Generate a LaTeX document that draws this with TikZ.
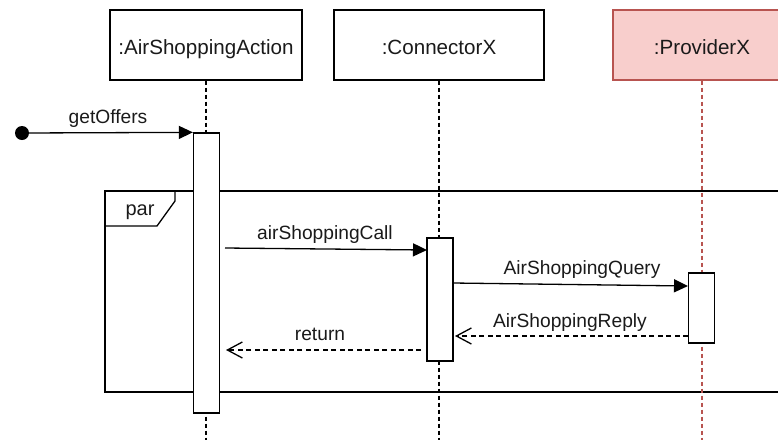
\documentclass[tikz,border=0pt]{standalone}
\usepackage{fontspec}
\setmainfont{Liberation Sans}
\usetikzlibrary{arrows.meta}
\definecolor{provfill}{HTML}{F8CECC}
\definecolor{provline}{HTML}{B85450}
\definecolor{ink}{HTML}{1A1A1A}
\begin{document}
\begin{tikzpicture}[x=1pt,y=-1pt,line width=1.3pt,
  head/.style={draw, minimum height=70pt, inner sep=0pt,
    text height=18pt, text depth=0pt, text=ink,
    font=\fontsize{20.6}{24}\selectfont},
  life/.style={dash pattern=on 4pt off 3pt},
  act/.style={draw, fill=white, minimum width=26pt, inner sep=0pt},
  sync/.style={-{Triangle[length=14pt,width=13pt]}},
  reply/.style={dash pattern=on 5pt off 3.5pt,
    -{Straight Barb[length=15pt,width=16pt,line width=1.3pt]}},
  lbl/.style={inner sep=0pt, anchor=base, text=ink,
    font=\fontsize{19.2}{23}\selectfont}]
\useasboundingbox (0,0) rectangle (778,440);
\clip (0,0) rectangle (778,440);

% participant heads
\node[head, minimum width=192pt] (asa) at (206,45) {:AirShoppingAction};
\node[head, minimum width=210pt] (con) at (439,45) {:ConnectorX};
\node[head, minimum width=178pt, fill=provfill, draw=provline] (prov) at (702,45) {:ProviderX};

% combined fragment "par"
\draw (105,191) rectangle (800,392);
\draw (105,226) -- (157,226) -- (175,201) -- (175,191);
\node[lbl, font=\fontsize{20}{24}\selectfont] (par) at (140,215) {par};

% lifelines
\coordinate (asa-end) at (206,440);
\coordinate (con-end) at (439,440);
\coordinate (prov-end) at (702,440);
\draw[life] (asa.south) -- (asa-end);
\draw[life] (con.south) -- (con-end);
\draw[life, draw=provline] (prov.south) -- (prov-end);

% activation bars
\node[act, minimum height=280pt] (act1) at (206.5,273) {};
\node[act, minimum height=123pt] (act2) at (440,299.5) {};
\node[act, minimum height=70pt] (act3) at (701.5,308) {};

% found message
\node[circle, fill=black, minimum size=14pt, inner sep=0pt] (start) at (22,133) {};
\draw[sync] (start.center) -- (act1.north west);
\node[lbl] at (108,123) {getOffers};

% calls
\coordinate (call-s) at (225,248);
\coordinate (call-e) at (427,250);
\draw[sync] (call-s) -- (call-e);
\node[lbl] at (325,239) {airShoppingCall};

\coordinate (query-s) at (453,283);
\coordinate (query-e) at (688,286);
\draw[sync] (query-s) -- (query-e);
\node[lbl] at (582,274) {AirShoppingQuery};

% replies
\coordinate (rep-s) at (688,336);
\coordinate (rep-e) at (455,336);
\draw[reply] (rep-s) -- (rep-e);
\node[lbl] at (570,327) {AirShoppingReply};

\coordinate (ret-s) at (421,350);
\coordinate (ret-e) at (226,350);
\draw[reply] (ret-s) -- (ret-e);
\node[lbl] at (320,340.5) {return};
\end{tikzpicture}
\end{document}
